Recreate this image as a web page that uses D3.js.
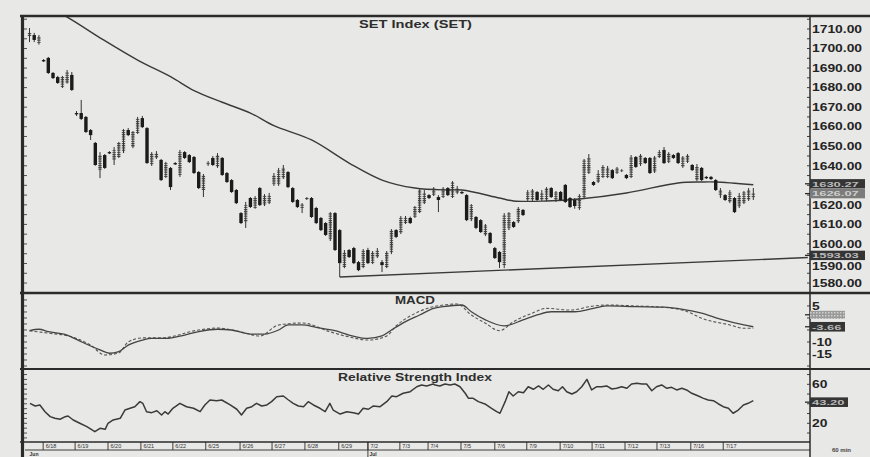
<!DOCTYPE html>
<html><head><meta charset="utf-8">
<script src="https://cdn.jsdelivr.net/npm/d3@7"></script>
<style>html,body{margin:0;padding:0;background:#e8e8e6;}svg{display:block;}</style>
</head><body><svg id="c" width="870" height="457"></svg>
<script>
// ---------- DATA ----------
const open = [1706.4,1706.9,1702.8,1694.1,1695.2,1687.5,1685.4,1680.3,1682.4,1686.5,
1667,1667,1665,1658.3,1651.7,1637.8,1645.5,1647,1643,1644.5,
1647,1658.3,1649.6,1656.8,1664.4,1659.3,1640.4,1644,1643,1634.3,
1638.9,1641.4,1635.3,1647,1645.5,1644.5,1636.8,1627.6,1640.4,1644,
1639.4,1644,1636.3,1632.7,1627.6,1615.8,1611.2,1623.5,1618.4,1628.6,
1619.9,1620.9,1630.2,1630.2,1633.7,1636.8,1628.6,1622.5,1618.4,1623,
1623.5,1618.4,1613.3,1610.7,1602,1615.8,1607.1,1588.2,1596.9,1597.9,
1590.7,1588.2,1596.9,1590.2,1593.3,1590.7,1588.2,1595.4,1607.1,1605.6,
1610.7,1613.3,1613.8,1616.3,1620.9,1625,1625,1624,1624,1628.6,
1624,1626.1,1626.6,1625,1612.2,1613.8,1612.2,1604.6,1605.6,1597.9,
1595.9,1589.2,1607.6,1611.2,1611.2,1617.4,1622.5,1622.5,1626.6,1622.5,
1622.5,1628.6,1622.5,1626.6,1630.2,1623.5,1622.5,1617.9,1624,1636.3,
1631.7,1631.7,1634.3,1634.3,1637.8,1636.3,1637.3,1635.3,1634.3,1644.5,
1640.4,1644,1644,1636.8,1644.5,1648.1,1641.9,1645.5,1646.5,1639.4,
1641.9,1640.4,1632.7,1638.9,1634.3,1634.3,1632.7,1624.5,1625,1621.5,
1623.5,1618.9,1621,1622.5,1623.5];
const close = [1708,1704.4,1705.9,1693.6,1687.5,1684.9,1682.4,1685.4,1688,1678.8,
1666.5,1664,1657.3,1655.7,1640.4,1645.5,1638.9,1646.5,1648.1,1651.7,
1658.3,1655.7,1657.3,1664.4,1659.8,1641.4,1646.5,1646.5,1632.7,1641.4,
1629.1,1640.9,1647,1644,1641.9,1636.3,1628.6,1635.3,1641.9,1640.4,
1645.5,1635.3,1631.7,1626.6,1620.9,1610.7,1619.9,1618.9,1623.5,1619.9,
1625,1625,1635.3,1637.8,1638.9,1629.1,1621.5,1618.9,1620.4,1623.5,
1613.8,1610.7,1607.1,1604.6,1615.8,1596.9,1590.2,1595.9,1593.3,1590.2,
1586.6,1596.9,1590.2,1595.9,1596.9,1589.2,1595.9,1607.1,1603.6,1613.8,
1613.8,1610.7,1618.9,1627.6,1626.1,1623.5,1628.6,1622.5,1628.6,1625,
1631.7,1628.6,1626.1,1612.2,1619.9,1608.2,1606.1,1609.7,1600.5,1592.8,
1590.7,1614.8,1615.8,1608.7,1618.4,1614.8,1626.6,1627.6,1622.5,1626.1,
1628.6,1624,1626.6,1622.5,1621.5,1618.9,1619.4,1625,1643,1644,
1630.2,1636.3,1639.4,1638.9,1633.7,1638.9,1637.8,1633.7,1644.5,1639.4,
1645.5,1641.4,1636.3,1644.5,1647,1641.4,1646.5,1644,1641.4,1644.5,
1645.5,1637.8,1639.4,1632.7,1633.7,1633.2,1627.6,1627.6,1622.5,1626.6,
1616.3,1625,1626.6,1627.6,1626.07];
const high = [1710.5,1708,1706.9,1694.6,1695.7,1688,1686,1686,1689,1688,
1668,1673.7,1665.5,1658.8,1652.2,1647,1646,1647.5,1649.6,1652.2,
1658.8,1659.3,1657.8,1665,1665.5,1659.8,1647,1647.5,1643.5,1642,
1639.4,1641.9,1648.1,1647.5,1646,1645,1637.3,1635.8,1642.4,1645,
1646.5,1644.5,1636.8,1633.2,1628.1,1616.3,1621.5,1624,1624.5,1629.1,
1625.5,1626.1,1636.3,1638.9,1640.4,1637.3,1629.1,1623,1620.9,1624,
1624,1619,1613.8,1611.2,1616.3,1616.3,1607.6,1596.9,1597.4,1598.5,
1591.3,1597.4,1598,1596.4,1597.9,1591.8,1596.4,1607.6,1607.6,1614.3,
1614.3,1614,1619.4,1628.1,1627.6,1625.5,1629.1,1625,1629.1,1629.1,
1632.2,1629.7,1627.1,1625.5,1620.4,1614.3,1612.7,1610.2,1606.1,1598.5,
1596.4,1615.8,1616.3,1611.7,1618.9,1617.9,1627.6,1628.1,1627.1,1627.6,
1629.1,1629.1,1627.1,1627.1,1630.7,1624,1623.5,1625.5,1643.5,1646,
1632.2,1637.8,1640.4,1639.9,1638.3,1639.4,1638.3,1635.8,1645.5,1645,
1646,1644.5,1644.5,1645,1648.1,1649.6,1647,1646,1647,1645,
1646,1640.9,1640.9,1639.4,1634.8,1634.8,1633.2,1628.6,1625.5,1627.6,
1624,1626.1,1627.1,1628.6,1628.6];
const low = [1703.3,1703.3,1702,1693.1,1687,1684.4,1681.9,1679.8,1682,1678.3,
1665.5,1663.4,1656.8,1653.2,1640,1633.7,1638.4,1646,1640.4,1644,
1646.5,1655.2,1649,1656.3,1659.3,1641,1639.9,1643.5,1632.2,1633.7,
1627.6,1640.4,1634.3,1643.5,1641.4,1635.8,1628.1,1624,1639.9,1639.9,
1638.9,1634.8,1631.2,1626.1,1620.4,1610.2,1608.2,1618.4,1618,1619.4,
1619.4,1620.4,1629.7,1629.7,1633.2,1628.6,1621,1618.4,1615.8,1622.5,
1613.3,1610.2,1606.6,1604.1,1601.5,1596.4,1583.1,1587.6,1592.8,1589.7,
1586.1,1587.6,1589.7,1589.7,1592.8,1585.6,1587.6,1594.8,1603,1605.1,
1610.2,1610.2,1613.3,1615.8,1620.4,1623,1624.5,1616.3,1623.5,1624.5,
1623.5,1625.5,1625.5,1611.7,1611.7,1607.6,1605.6,1604,1600,1592.3,
1587.7,1587.6,1607.1,1608.2,1610.7,1614.3,1622,1622,1622,1622,
1622,1623.5,1621.5,1622,1621,1618.4,1618,1617.4,1623.5,1635.8,
1629.7,1631.2,1633.7,1633.7,1633.2,1635.8,1636.8,1633.2,1633.7,1638.9,
1639.9,1640.9,1635.8,1636.3,1644,1640.9,1641.4,1643.5,1640.9,1638.9,
1641.4,1637.3,1632.2,1632.2,1633.2,1632.7,1627.1,1623.5,1622,1620.9,
1615.8,1618.4,1620.4,1622,1622.5];

// moving average (bar index, value)
const maIdx = [3,8,15,23,30,35,41,47,52,60,68,75,82,89,92,100,103,110,117,127,138,143,146,154];
const maVal = [1722,1716.1,1705.5,1694.1,1685.6,1678.5,1672.5,1667,1660.5,1653.2,1641.4,1632.7,1628.6,1627.6,1627.6,1623.5,1622,1622,1623,1626.1,1631.2,1631.7,1631.7,1630.27];
// support trend line
const trendIdx = [66,165.6];
const trendVal = [1583.1,1593.03];

// MACD panel
const signalIdx = [0,2,4,8,11,15,17,19,21,24,26,29,33,36,40,43,47,50,53,55,58,61,65,68,72,75,77,80,83,86,88,92,94,97,101,105,108,111,116,120,123,129,135,139,143,147,152,154];
const signalVal = [-5.3,-4.7,-5.7,-7.1,-9.9,-13.3,-14.7,-14,-11.3,-9.2,-8.5,-8.5,-7.1,-5.7,-4.7,-5,-6.7,-6.7,-5,-2.9,-2.9,-3.9,-5.3,-7.1,-8.5,-7.5,-5,-1.5,1.25,4,4.7,5.4,2.6,-0.8,-3.3,-0.8,1.25,2.6,2.6,4,5,4.7,4.5,3.6,2,-0.5,-2.9,-3.66];
const macdIdx = [0,4,9,13,16,19,21,24,28,36,40,45,49,53,58,64,68,72,76,78,81,86,91,94,97,100,103,107,110,115,120,123,129,134,140,143,149,152,154];
const macdVal = [-5.4,-6.3,-7.9,-11.3,-15.4,-14.6,-10,-8.3,-8.3,-5,-4.2,-5.8,-7.5,-2.9,-2.1,-5.8,-7.9,-9.2,-7.5,-3.3,0.8,4.7,5.8,1.25,-2.2,-5.3,-1.5,2,4,3.3,5,5.4,5,4.6,2.6,-0.1,-2.9,-4.3,-4.3];

// RSI panel
const rsiIdx = [0.1,1.2,2.2,3.3,4.4,5.4,6.5,7.6,8.2,9.3,10.7,12.2,13.9,15,16.1,16.7,17.8,19.3,20.3,21.4,22.4,23.5,24.1,24.9,26,27.1,28.1,28.8,29.5,30.5,32,33.4,34.9,36.3,37.3,38.4,39.8,40.9,42.7,44.1,45.1,46.2,47.3,48.3,49.4,50.5,51.5,52.6,54,55.1,56.1,57.2,58.3,59.3,60.4,61.8,62.9,63.9,64.6,66.1,67.5,68.9,70,71,72.1,73.1,74.6,76,77.1,78.1,79.5,81,82.4,83.4,84.5,85.9,
86.3,87.3,88.4,89.5,90.5,91.6,92.7,93.4,94.4,95.5,96.9,98.3,99.4,100.1,101.2,102,102.9,104,105.1,106.1,107.2,108.3,109.3,110.4,111.4,112.5,113.4,114.3,115.4,116.4,117.5,118.6,119.6,120.7,121.7,122.8,123.9,124.9,126,127.1,128.1,129.2,130.3,131.3,132.4,133.4,134.5,135.6,136.6,137.7,138.8,139.8,140.9,142.3,143.4,144.4,145.5,146.6,147.6,148.7,149.7,150.8,151.9,152.9,154];
const rsiVal = [40.5,37.7,38.8,31.9,26.8,25.1,24.1,26.8,27.5,23.4,20,16.5,11.4,14.9,13.8,20,23.4,25.1,33.6,35.4,37,42.2,40.5,31.9,30.9,32.9,28.5,31.9,29.5,35.4,40.5,37,35.4,31.9,38.8,43.9,43.2,43.9,38.8,34.4,28.5,35.4,37,40.5,37.7,38.8,42.2,47.3,48,43.9,40.5,37.7,37,42.2,38.8,35.4,31.9,40.5,33.6,29.5,31.9,30.9,29.5,35.4,34.4,37.7,37,42.2,48,47.3,50.8,52.4,57.5,59.3,58.3,60.3,
59.3,58.3,60.3,59.3,60.3,57.5,50.8,45.6,45.6,42.2,39.8,35.4,31.9,30.3,42.2,52.4,48,52.4,51.4,57.5,54.9,58.3,54.9,59.3,54.9,53.4,57.5,52.4,50.1,52.4,57.5,65.1,54.2,57.5,57.5,58.3,55.2,55.9,57.5,55.9,60.3,61,60.3,60.3,53.4,57.5,59.3,55.9,56.9,54.2,55.9,54.2,50.8,48,45.6,43.9,43.2,39.8,37,35.4,30.3,33.6,38.8,40.5,43.2];

// axis ticks / labels
const priceTicks = [1580,1590,1600,1610,1620,1640,1650,1660,1670,1680,1690,1700,1710];
const priceMarks = [{v:1630.27,dark:true,shift:-1},{v:1626.07,dark:false,shift:0.6},{v:1593.03,dark:true,shift:-2.2}];
const macdTicks = [5,-10,-15];
const macdLast = -3.66;
const rsiTicks = [60,20];
const rsiLast = 43.20;
const dates = ["6/18","6/19","6/20","6/21","6/22","6/25","6/26","6/27","6/28","6/29","7/2","7/3","7/4","7/5","7/6","7/9","7/10","7/11","7/12","7/13","7/16","7/17"];
const dateIdx = [2.9,9.7,16.7,23.7,30.5,37.5,44.8,51.6,58.6,65.8,72,78.8,84.8,91.8,99,105.8,112.9,119.7,126.7,133.5,140.7,147.6];
const months = [{t:"Jun",i:-0.3},{t:"Jul",i:72}];

// ---------- CHART ----------
const svg = d3.select("#c");
const INK = "#2b2b2b";
const FONT = "'Liberation Sans', Arial, sans-serif";
const L = 25, R = 810;
const x = d3.scaleLinear().domain([-0.96,166.06]).range([L,R]);
const yP = d3.scaleLinear().domain([1574.9,1716.65]).range([293,16]);
const yM = d3.scaleLinear().domain([-21.25,10.4]).range([369,293]);
const yR = d3.scaleLinear().domain([0.8,75.7]).range([442,369]);

const defs = svg.append("defs");
const pat = defs.append("pattern").attr("id","hatch").attr("patternUnits","userSpaceOnUse").attr("width",4).attr("height",2.2);
pat.append("rect").attr("width",4).attr("height",1.1).attr("fill","#3c3c3c");
const pat2 = defs.append("pattern").attr("id","hatch2").attr("patternUnits","userSpaceOnUse").attr("width",3).attr("height",3);
pat2.append("rect").attr("width",3).attr("height",3).attr("fill","#9a9a9a");
pat2.append("rect").attr("width",1.5).attr("height",1.5).attr("fill","#cfcfcf");
defs.append("clipPath").attr("id","clipP").append("rect").attr("x",L).attr("y",17).attr("width",R-L).attr("height",275);

svg.append("rect").attr("width",870).attr("height",457).attr("fill","#e8e8e6");

// price panel
const gp = svg.append("g").attr("clip-path","url(#clipP)");
const maLine = d3.line().x((d,i)=>x(maIdx[i])).y(d=>yP(d)).curve(d3.curveCatmullRom.alpha(0.5));
gp.append("path").attr("d",maLine(maVal)).attr("fill","none").attr("stroke","#3a3a3a").attr("stroke-width",1.4);
const trLine = d3.line().x((d,i)=>x(trendIdx[i])).y(d=>yP(d));
gp.append("path").attr("d",trLine(trendVal)).attr("fill","none").attr("stroke","#3a3a3a").attr("stroke-width",1.4);

const bars = open.map((o,i)=>({i,o,c:close[i],h:high[i],l:low[i]}));
gp.selectAll("line.wick").data(bars).join("line").attr("class","wick")
  .attr("x1",d=>x(d.i)).attr("x2",d=>x(d.i)).attr("y1",d=>yP(d.h)).attr("y2",d=>yP(d.l))
  .attr("stroke","#333").attr("stroke-width",1);
gp.selectAll("rect.body").data(bars).join("rect").attr("class","body")
  .attr("x",d=>x(d.i)-1.7).attr("width",3.4)
  .attr("y",d=>yP(Math.max(d.o,d.c)))
  .attr("height",d=>Math.max(1.3,Math.abs(yP(d.o)-yP(d.c))))
  .attr("fill",d=>d.c>=d.o?"url(#hatch)":"#1b1b1b");

// MACD
const mSig = d3.line().x((d,i)=>x(signalIdx[i])).y(d=>yM(d)).curve(d3.curveMonotoneX);
const mMac = d3.line().x((d,i)=>x(macdIdx[i])).y(d=>yM(d)).curve(d3.curveMonotoneX);
svg.append("path").attr("d",mMac(macdVal)).attr("fill","none").attr("stroke","#555").attr("stroke-width",1.1).attr("stroke-dasharray","3,2");
svg.append("path").attr("d",mSig(signalVal)).attr("fill","none").attr("stroke","#444").attr("stroke-width",1.3);

// RSI
const rLine = d3.line().x((d,i)=>x(rsiIdx[i])).y(d=>yR(d));
svg.append("path").attr("d",rLine(rsiVal)).attr("fill","none").attr("stroke","#3a3a3a").attr("stroke-width",1.5).attr("stroke-linejoin","round");

// frame
const frame = svg.append("g").attr("stroke",INK).attr("fill","none");
frame.append("line").attr("x1",20).attr("x2",870).attr("y1",16).attr("y2",16).attr("stroke-width",2.5);
frame.append("line").attr("x1",20).attr("x2",870).attr("y1",293).attr("y2",293).attr("stroke-width",2.6);
frame.append("line").attr("x1",20).attr("x2",870).attr("y1",369).attr("y2",369).attr("stroke-width",2);
frame.append("line").attr("x1",20).attr("x2",R).attr("y1",442).attr("y2",442).attr("stroke-width",1.6);
frame.append("line").attr("x1",L).attr("x2",R).attr("y1",450).attr("y2",450).attr("stroke-width",0.9);
frame.append("line").attr("x1",22.5).attr("x2",22.5).attr("y1",15).attr("y2",457).attr("stroke-width",3.2);
frame.append("line").attr("x1",R).attr("x2",R).attr("y1",15).attr("y2",457).attr("stroke-width",1.5);

// left ruler ticks
frame.selectAll("line.lt").data(d3.range(1575,1716,5)).join("line").attr("class","lt")
  .attr("x1",24).attr("x2",27).attr("y1",d=>yP(d)).attr("y2",d=>yP(d)).attr("stroke-width",0.8);
frame.selectAll("line.lt2").data(d3.range(-20,10,2.5)).join("line").attr("class","lt2")
  .attr("x1",24).attr("x2",27).attr("y1",d=>yM(d)).attr("y2",d=>yM(d)).attr("stroke-width",0.8);
frame.selectAll("line.lt3").data(d3.range(5,75,5)).join("line").attr("class","lt3")
  .attr("x1",24).attr("x2",27).attr("y1",d=>yR(d)).attr("y2",d=>yR(d)).attr("stroke-width",0.8);
// right axis ticks
frame.selectAll("line.rt").data(d3.range(1575,1716,5)).join("line").attr("class","rt")
  .attr("x1",R-3).attr("x2",R).attr("y1",d=>yP(d)).attr("y2",d=>yP(d)).attr("stroke-width",0.9);
frame.selectAll("line.rt2").data(d3.range(-20,10,5)).join("line").attr("class","rt2")
  .attr("x1",R-3).attr("x2",R).attr("y1",d=>yM(d)).attr("y2",d=>yM(d)).attr("stroke-width",0.9);
frame.selectAll("line.rt3").data(d3.range(10,75,10)).join("line").attr("class","rt3")
  .attr("x1",R-3).attr("x2",R).attr("y1",d=>yR(d)).attr("y2",d=>yR(d)).attr("stroke-width",0.9);

// date strip
frame.selectAll("line.dt").data(dateIdx).join("line").attr("class","dt")
  .attr("x1",d=>x(d)).attr("x2",d=>x(d)).attr("y1",442).attr("y2",450).attr("stroke-width",0.9);
frame.append("line").attr("x1",x(months[1].i)).attr("x2",x(months[1].i)).attr("y1",442).attr("y2",457).attr("stroke-width",0.9);
svg.selectAll("text.dl").data(dates).join("text").attr("class","dl")
  .attr("x",(d,i)=>x(dateIdx[i])+2.5).attr("y",448.3).text(d=>d)
  .attr("font-family",FONT).attr("font-size",5.5).attr("fill","#333");
svg.selectAll("text.ml").data(months).join("text").attr("class","ml")
  .attr("x",d=>x(d.i)+1.5).attr("y",455.5).text(d=>d.t)
  .attr("font-family",FONT).attr("font-size",5).attr("font-weight","bold").attr("fill","#333");
svg.append("text").attr("x",832).attr("y",452).text("60 min").attr("font-family",FONT).attr("font-size",6).attr("font-weight","bold").attr("fill","#444");

// titles
const title = (t,cx,y,len,fs)=>svg.append("text").attr("x",cx).attr("y",y).text(t)
  .attr("font-family",FONT).attr("font-weight","bold").attr("font-size",fs).attr("fill","#2e2e2e")
  .attr("textLength",len).attr("lengthAdjust","spacingAndGlyphs");
title("SET Index (SET)",359,27.5,113,11);
title("MACD",395,304,40,10.5);
title("Relative Strength Index",338,380.5,154,10.5);

// axis labels (stretched like the print); a label sitting just under a value box is nudged down
const near = t => priceMarks.some(m => m.v > t && m.v - t < 5);
const lab = svg.append("g").attr("transform","translate(812,0) scale(1.32,1)")
  .attr("font-family",FONT).attr("font-weight","bold").attr("font-size",10.5).attr("fill","#242424");
lab.selectAll("text.p").data(priceTicks).join("text").attr("class","p")
  .attr("x",0).attr("y",d=>yP(d)).attr("dy",d=>near(d)?"0.6em":"0.36em").text(d=>d3.format(".2f")(d));
lab.selectAll("text.m").data(macdTicks).join("text").attr("class","m")
  .attr("x",0).attr("y",d=>yM(d)).attr("dy","0.36em").text(d=>String(d));
lab.selectAll("text.r").data(rsiTicks).join("text").attr("class","r")
  .attr("x",0).attr("y",d=>yR(d)).attr("dy","0.36em").text(d=>String(d));

// value boxes
function box(yc,txt,fill,tfill,w,h){
  svg.append("rect").attr("x",R).attr("y",yc-h/2).attr("width",w).attr("height",h).attr("fill",fill);
  if(txt!==null) svg.append("g").attr("transform","translate(812,0) scale(1.6,1)")
    .append("text").attr("x",0).attr("y",yc).attr("dy","0.35em").text(txt)
    .attr("font-family",FONT).attr("font-weight","bold").attr("font-size",8.1).attr("fill",tfill);
  svg.append("line").attr("x1",R-5).attr("x2",R).attr("y1",yc).attr("y2",yc).attr("stroke",INK).attr("stroke-width",1.3);
}
priceMarks.forEach(m=>box(yP(m.v)+m.shift,m.v.toFixed(2),m.dark?"#353535":"#7b7b7b",m.dark?"#b9b9b9":"#cdcdcd",55,9.4));
box(yM(macdLast)-12,null,"url(#hatch2)","",35,8);
box(yM(macdLast),macdLast.toFixed(2),"#353535","#b9b9b9",35,9.6);
box(yR(rsiLast)+1.5,rsiLast.toFixed(2),"#353535","#b9b9b9",38,9.6);
</script></body></html>
